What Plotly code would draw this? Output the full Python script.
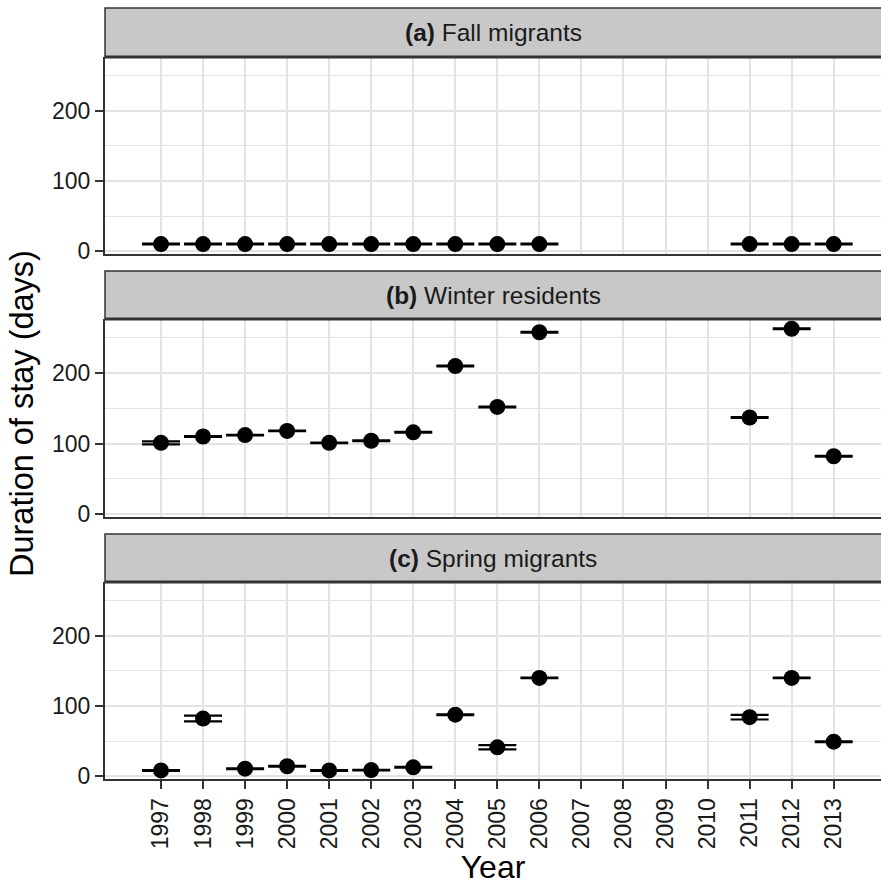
import plotly.graph_objects as go

# ---------------- data ----------------
all_years = list(range(1997, 2014))
y_ticks = [0, 100, 200]

fall_years = [1997, 1998, 1999, 2000, 2001, 2002, 2003, 2004, 2005, 2006, 2011, 2012, 2013]
fall_val = [10, 10, 10, 10, 10, 10, 10, 10, 10, 10, 10, 10, 10]
fall_lo = [9.5, 9.5, 9.5, 9.5, 9.5, 9.5, 9.5, 9.5, 9.5, 9.5, 9.5, 9.5, 9.5]
fall_hi = [10.5, 10.5, 10.5, 10.5, 10.5, 10.5, 10.5, 10.5, 10.5, 10.5, 10.5, 10.5, 10.5]

winter_years = [1997, 1998, 1999, 2000, 2001, 2002, 2003, 2004, 2005, 2006, 2011, 2012, 2013]
winter_val = [101, 110, 112, 118, 101, 104, 116, 210, 152, 258, 137, 263, 82]
winter_lo = [99, 109.5, 111.5, 117.5, 100.5, 103.5, 115.5, 209.5, 151.5, 257.5, 136.5, 262.5, 81.5]
winter_hi = [103, 110.5, 112.5, 118.5, 101.5, 104.5, 116.5, 210.5, 152.5, 258.5, 137.5, 263.5, 82.5]

spring_years = [1997, 1998, 1999, 2000, 2001, 2002, 2003, 2004, 2005, 2006, 2011, 2012, 2013]
spring_val = [8, 82, 10.5, 14, 8, 8.5, 12.5, 87.5, 41, 140, 84, 140, 49]
spring_lo = [7.5, 78, 10, 13.5, 7.5, 8, 12, 87, 38, 139.5, 80.7, 139.5, 48.5]
spring_hi = [8.5, 86.3, 11, 14.5, 8.5, 9, 13, 88, 44, 140.5, 87.3, 140.5, 49.5]

panel_titles = ["<b>(a)</b> Fall migrants", "<b>(b)</b> Winter residents", "<b>(c)</b> Spring migrants"]
x_title = "Year"
y_title = "Duration of stay (days)"

# ---------------- layout geometry ----------------
W, H = 881, 886
ML, MR, MT, MB = 105, 0, 8, 107
plot_h = H - MT - MB


def py(pix):
    return (H - MB - pix) / plot_h


panel_px = [(57, 254), (319, 517), (582, 779)]
strip_px = [(8, 57), (271, 319), (534, 582)]

FONT = "Liberation Sans, Arial, Helvetica, sans-serif"
GRID = "#e3e3e3"
BORDER = "#333333"
STRIP_FILL = "#c8c8c8"

fig = go.Figure()

series = [
    (fall_years, fall_val, fall_lo, fall_hi),
    (winter_years, winter_val, winter_lo, winter_hi),
    (spring_years, spring_val, spring_lo, spring_hi),
]

for i, (yrs, val, lo, hi) in enumerate(series):
    k = "" if i == 0 else str(i + 1)
    fig.add_trace(go.Scatter(
        x=yrs, y=val, mode="markers",
        xaxis="x" + k, yaxis="y" + k,
        marker=dict(size=16, color="black"),
        error_y=dict(type="data", symmetric=False,
                     array=[h - v for h, v in zip(hi, val)],
                     arrayminus=[v - l for v, l in zip(val, lo)],
                     color="black", thickness=2.2, width=19),
        showlegend=False, cliponaxis=False,
    ))

x_range = [1995.668, 2014.125]
y_range = [-4.2, 276.8]

layout = dict(
    width=W, height=H,
    margin=dict(l=ML, r=MR, t=MT, b=MB),
    paper_bgcolor="white", plot_bgcolor="white",
    font=dict(family=FONT, color="black"),
    shapes=[], annotations=[],
)

for i in range(3):
    k = "" if i == 0 else str(i + 1)
    top, bot = panel_px[i]
    bottom_panel = (i == 2)
    layout["xaxis" + k] = dict(
        domain=[0, 1], anchor="y" + k, range=x_range,
        tickmode="array", tickvals=all_years,
        ticktext=[str(y) for y in all_years],
        showticklabels=bottom_panel, tickangle=-90,
        ticks="outside" if bottom_panel else "", ticklen=8, tickwidth=2, tickcolor=BORDER,
        tickfont=dict(size=23, color="#1a1a1a", family=FONT),
        showgrid=True, gridcolor=GRID, gridwidth=2.2,
        showline=True, linecolor=BORDER, linewidth=2, mirror=False,
        zeroline=False, fixedrange=True,
        matches=None if i == 0 else "x",
        title=dict(text=x_title if bottom_panel else "", font=dict(size=32, family=FONT), standoff=2),
    )
    layout["yaxis" + k] = dict(
        domain=[py(bot), py(top)], anchor="x" + k, range=y_range,
        tickmode="array", tickvals=y_ticks, ticktext=[str(t) for t in y_ticks],
        ticks="outside", ticklen=8, tickwidth=2, tickcolor=BORDER,
        tickfont=dict(size=23, color="#1a1a1a", family=FONT),
        showgrid=True, gridcolor=GRID, gridwidth=2,
        minor=dict(dtick=50, tick0=0, showgrid=True, gridcolor=GRID, gridwidth=1.2, ticks=""),
        showline=True, linecolor=BORDER, linewidth=2, mirror=False,
        zeroline=False, fixedrange=True,
    )
    # strip
    s_top, s_bot = strip_px[i]
    layout["shapes"].append(dict(
        type="rect", xref="paper", yref="paper",
        x0=0, x1=1.01, y0=py(s_bot), y1=py(s_top),
        fillcolor=STRIP_FILL, line=dict(color=BORDER, width=1.5), layer="above",
    ))
    layout["shapes"].append(dict(
        type="line", xref="paper", yref="paper",
        x0=0, x1=1.01, y0=py(s_bot), y1=py(s_bot),
        line=dict(color=BORDER, width=3), layer="above",
    ))
    layout["annotations"].append(dict(
        xref="paper", yref="paper", x=0.5, y=(py(s_bot) + py(s_top)) / 2,
        text=panel_titles[i], showarrow=False, xanchor="center", yanchor="middle",
        font=dict(size=24.5, color="#1a1a1a", family=FONT),
    ))

layout["annotations"].append(dict(
    xref="paper", yref="paper", x=-(ML - 22) / (W - ML - MR), y=(py(580) + py(248)) / 2,
    text=y_title, textangle=-90, showarrow=False, xanchor="center", yanchor="middle",
    font=dict(size=32.5, color="black", family=FONT),
))

fig.update_layout(**layout)
fig.write_html("out.html")
